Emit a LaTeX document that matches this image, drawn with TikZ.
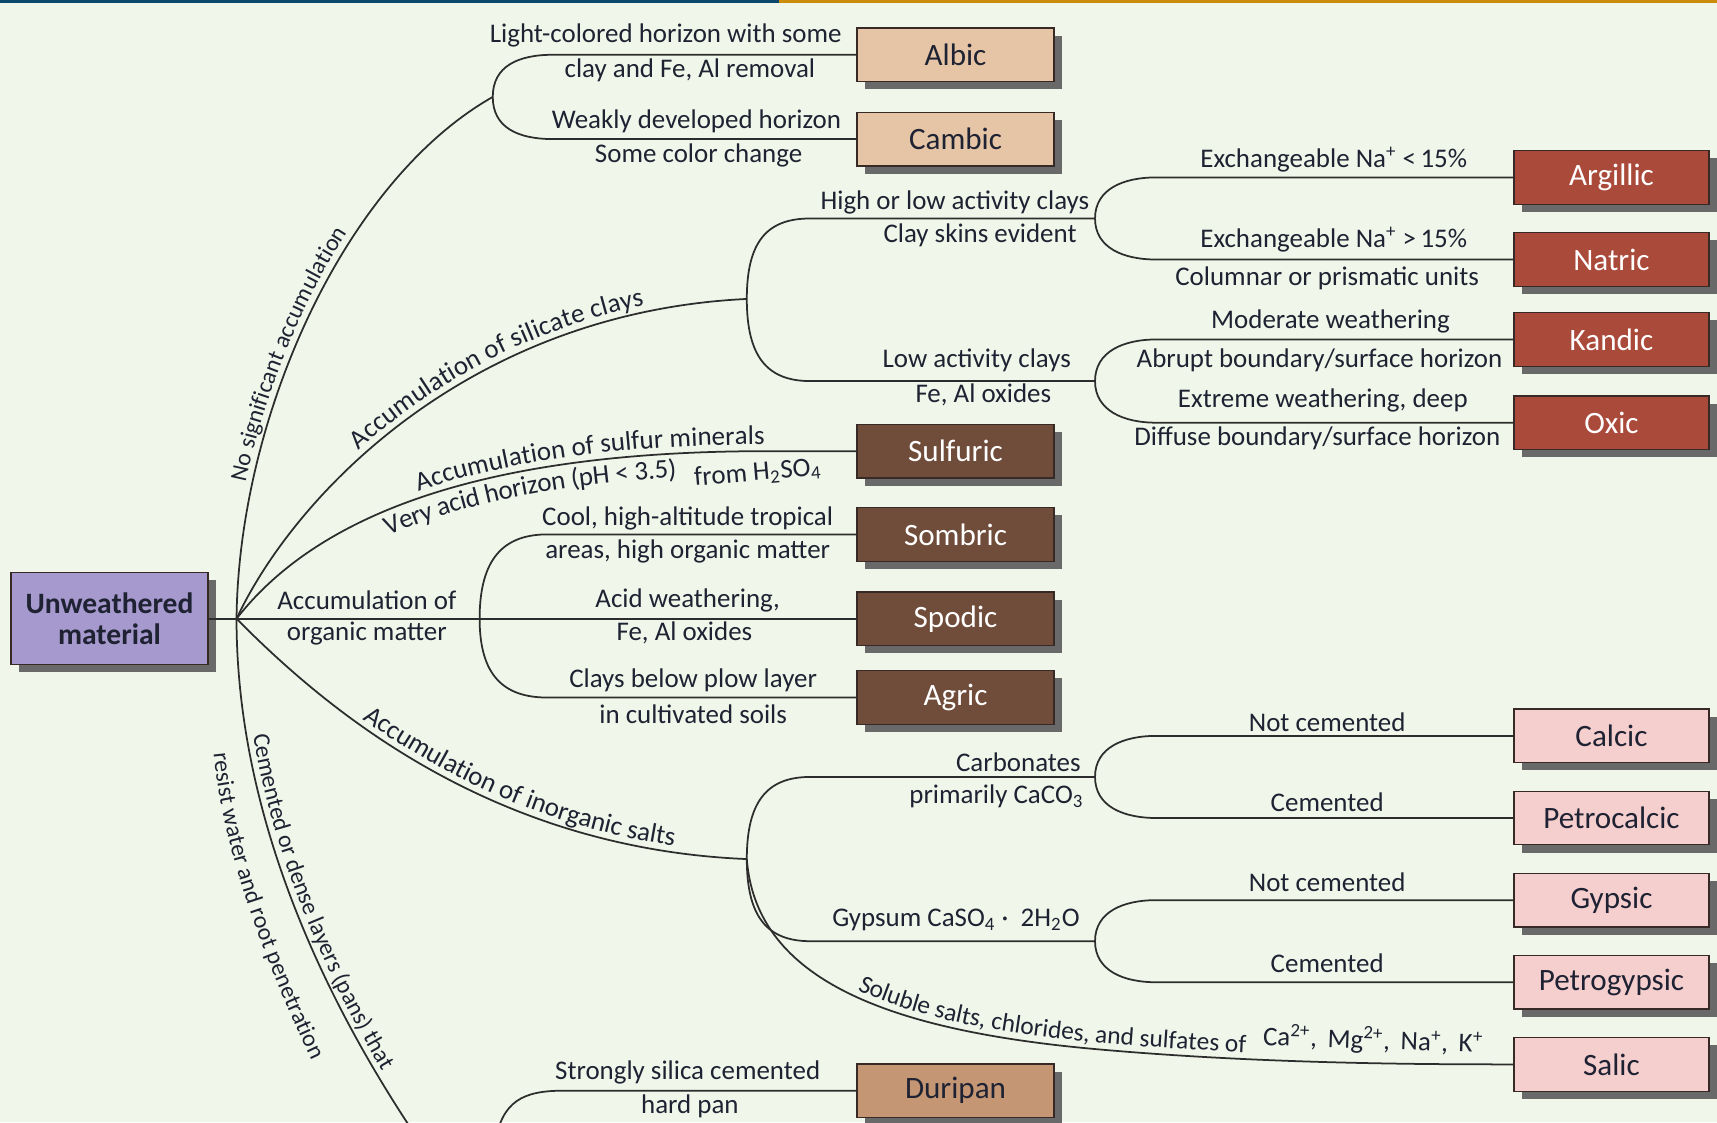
\documentclass[tikz,border=0pt]{standalone}
\usepackage{fontspec}
\setmainfont{Carlito}
\usetikzlibrary{shadows,decorations.text}
\definecolor{bg}{RGB}{240,246,233}
\definecolor{barblue}{RGB}{12,72,110}
\definecolor{bargold}{RGB}{204,140,12}
\definecolor{tanc}{RGB}{229,197,165}
\definecolor{brick}{RGB}{170,74,58}
\definecolor{dbrown}{RGB}{112,76,58}
\definecolor{pinkc}{RGB}{245,206,206}
\definecolor{durc}{RGB}{196,150,116}
\definecolor{lavc}{RGB}{165,153,205}
\definecolor{shade}{RGB}{105,105,105}
\definecolor{boxline}{RGB}{55,42,38}
\definecolor{linec}{RGB}{45,45,45}
\definecolor{txt}{RGB}{30,34,50}
\newcommand\lblf{\fontsize{12.3}{14}\selectfont}
\newcommand\lblm{\fontsize{11.6}{14}\selectfont}
\newcommand\lbls{\fontsize{10.9}{13}\selectfont}
\newcommand\boxf{\fontsize{14.2}{16}\selectfont}
\tikzset{
  hbox/.style={draw=boxline, line width=0.6pt, minimum width=90pt, minimum height=24.5pt,
    inner sep=0pt, font=\boxf, anchor=west,
    drop shadow={shadow xshift=3.5pt, shadow yshift=-3.5pt, fill=shade, opacity=1}},
  rbox/.style={hbox, minimum width=89pt},
  tanbox/.style={hbox, fill=tanc, text=txt},
  redbox/.style={rbox, fill=brick, text=white},
  brownbox/.style={hbox, fill=dbrown, text=white},
  pinkbox/.style={rbox, fill=pinkc, text=txt},
  duribox/.style={hbox, fill=durc, text=txt},
  rootbox/.style={draw=boxline, line width=0.6pt, fill=lavc, text=txt, minimum width=90pt,
    minimum height=42pt, inner sep=0pt, align=center,
    font=\bfseries\fontsize{13.5}{14.5}\selectfont,
    drop shadow={shadow xshift=3.5pt, shadow yshift=-3.5pt, fill=shade, opacity=1}},
  conn/.style={draw=linec, line width=0.8pt},
  lbl/.style={font=\lblf, text=txt, inner sep=0pt},
}
\begin{document}
\begin{tikzpicture}[x=0.5pt,y=-0.5pt]
\useasboundingbox (0,0) rectangle (1568,1025);
\fill[bg] (0,0) rectangle (1568,1025);
\begin{scope}
\clip (0,0) rectangle (1568,1025);
\fill[barblue] (0,0) rectangle (711,3);
\fill[bargold] (711,0) rectangle (1568,3);

% boxes
\node[rootbox] (root) at (100,565) {Unweathered\\material};
\node[tanbox] (albic) at (782,50) {Albic};
\node[tanbox] (cambic) at (782,127) {Cambic};
\node[brownbox] (sulfuric) at (782,412) {Sulfuric};
\node[brownbox] (sombric) at (782,488) {Sombric};
\node[brownbox] (spodic) at (782,565) {Spodic};
\node[brownbox] (agric) at (782,637) {Agric};
\node[duribox] (duripan) at (782,996) {Duripan};
\node[redbox] (argillic) at (1382,162) {Argillic};
\node[redbox] (natric) at (1382,237) {Natric};
\node[redbox] (kandic) at (1382,310) {Kandic};
\node[redbox] (oxic) at (1382,386) {Oxic};
\node[pinkbox] (calcic) at (1382,672) {Calcic};
\node[pinkbox] (petrocalcic) at (1382,747) {Petrocalcic};
\node[pinkbox] (gypsic) at (1382,822) {Gypsic};
\node[pinkbox] (petrogypsic) at (1382,897) {Petrogypsic};
\node[pinkbox] (salic) at (1382,972) {Salic};

% junctions
\coordinate (J) at (216,565);
\coordinate (FA) at (450,88.5);
\coordinate (FB) at (682,273);
\coordinate (FH) at (1000,199.5);
\coordinate (FL) at (1000,348);
\coordinate (FO) at (438,565);
\coordinate (FI) at (682,784.5);
\coordinate (FC) at (1000,709.5);
\coordinate (FG) at (1000,859.5);
\coordinate (cembot) at (385,1045);
\coordinate (duribot) at (452,1045);
\coordinate (rs1) at (195,688);
\coordinate (rs2) at (305,1010);

% connectors
\draw[conn] (root.east) -- (spodic.west);
\draw[conn, postaction={decorate, decoration={text along path, raise=3pt,
   text align={left indent=62pt}, text={|\lbls\color{txt}|No significant accumulation}}}]
  (J) .. controls (218,380) and (315,165) .. (FA);
\draw[conn] (FA) .. controls +(0,-28) and +(-32,0) .. ([xshift=-138.5pt]albic.west) -- (albic.west);
\draw[conn] (FA) .. controls +(0,28) and +(-32,0) .. ([xshift=-138.5pt]cambic.west) -- (cambic.west);

\draw[conn, postaction={decorate, decoration={text along path, raise=3pt,
   text align={left indent=95pt}, text={|\lblf\color{txt}|Accumulation of silicate clays}}}]
  (J) .. controls (270,450) and (430,285) .. (FB);
\draw[conn] (FB) .. controls +(0,-52) and +(-40,0) .. ([xshift=-130pt]FH) -- (FH);
\draw[conn] (FB) .. controls +(0,52) and +(-40,0) .. ([xshift=-130pt]FL) -- (FL);
\draw[conn] (FH) .. controls +(0,-27) and +(-30,0) .. ([xshift=-163pt]argillic.west) -- (argillic.west);
\draw[conn] (FH) .. controls +(0,27) and +(-30,0) .. ([xshift=-163pt]natric.west) -- (natric.west);
\draw[conn] (FL) .. controls +(0,-27) and +(-30,0) .. ([xshift=-163pt]kandic.west) -- (kandic.west);
\draw[conn] (FL) .. controls +(0,27) and +(-30,0) .. ([xshift=-163pt]oxic.west) -- (oxic.west);

\draw[conn, postaction={decorate, decoration={text along path, raise=3pt,
   text align={left indent=102pt}, text={|\lblf\color{txt}|Accumulation of sulfur minerals}}},
   postaction={decorate, decoration={text along path, raise=-11pt,
   text align={left indent=82pt}, text={|\lblf\color{txt}|Very acid horizon (pH < 3.5)}}}]
  (J) .. controls (290,470) and (440,412) .. ([xshift=-41pt]sulfuric.west) -- (sulfuric.west);

\draw[conn] (FO) .. controls +(0,-55) and +(-40,0) .. ([xshift=-141pt]sombric.west) -- (sombric.west);
\draw[conn] (FO) .. controls +(0,52) and +(-40,0) .. ([xshift=-141pt]agric.west) -- (agric.west);

\draw[conn, postaction={decorate, decoration={text along path, raise=3pt,
   text align={left indent=74pt}, text={|\lblf\color{txt}|Accumulation of inorganic salts}}}]
  (J) .. controls (300,650) and (450,775) .. (FI);
\draw[conn] (FI) .. controls +(0,-52) and +(-40,0) .. ([xshift=-130pt]FC) -- (FC);
\draw[conn] (FI) .. controls +(0,52) and +(-40,0) .. ([xshift=-130pt]FG) -- (FG);
\draw[conn] (FC) .. controls +(0,-27) and +(-30,0) .. ([xshift=-163pt]calcic.west) -- (calcic.west);
\draw[conn] (FC) .. controls +(0,27) and +(-30,0) .. ([xshift=-163pt]petrocalcic.west) -- (petrocalcic.west);
\draw[conn] (FG) .. controls +(0,-27) and +(-30,0) .. ([xshift=-163pt]gypsic.west) -- (gypsic.west);
\draw[conn] (FG) .. controls +(0,27) and +(-30,0) .. ([xshift=-163pt]petrogypsic.west) -- (petrogypsic.west);
\draw[conn, postaction={decorate, decoration={text along path, raise=3pt,
   text align={left indent=84pt}, text={|\lblm\color{txt}|Soluble salts, chlorides, and sulfates of}}}]
  (FI) .. controls (690,890) and (800,940) .. (1000,958) .. controls (1150,971.5) and (1300,972) .. (salic.west);

\draw[conn, postaction={decorate, decoration={text along path, raise=3pt,
   text align={left indent=54pt}, text={|\lbls\color{txt}|Cemented or dense layers (pans) that}}}]
  (J) .. controls (216,750) and (300,920) .. (cembot);
\path[decorate, decoration={text along path, raise=0pt,
   text align={left indent=0pt}, text={|\lbls\color{txt}|resist water and root penetration}}]
  (rs1) .. controls (204,780) and (244,890) .. (rs2);
\draw[conn] (duribot) .. controls (458,1005) and (478,996) .. ([xshift=-133.5pt]duripan.west) -- (duripan.west);

% labels
\node[lbl] (t1) at (608,32) {Light-colored horizon with some};
\node[lbl] (t2) at (630,64) {clay and Fe, Al removal};
\node[lbl] (t3) at (636,111) {Weakly developed horizon};
\node[lbl] (t4) at (638,142) {Some color change};
\node[lbl] (t5) at (872,185) {High or low activity clays};
\node[lbl] (t6) at (895,215) {Clay skins evident};
\node[lbl] (t7) at (892,329) {Low activity clays};
\node[lbl] (t8) at (898,361) {Fe, Al oxides};
\node[lbl] (t9) at (1218,146) {Exchangeable Na\textsuperscript{+} <\,15\%};
\node[lbl] (t10) at (1218,219) {Exchangeable Na\textsuperscript{+} >\,15\%};
\node[lbl] (t11) at (1212,254) {Columnar or prismatic units};
\node[lbl] (t12) at (1215,294) {Moderate weathering};
\node[lbl] (t13) at (1205,329) {Abrupt boundary/surface horizon};
\node[lbl] (t14) at (1208,366) {Extreme weathering, deep};
\node[lbl] (t15) at (1203,400) {Diffuse boundary/surface horizon};
\node[lbl, rotate=5] (t16) at (692,432) {from H\textsubscript{2}SO\textsubscript{4}};
\node[lbl] (t17) at (628,473) {Cool, high-altitude tropical};
\node[lbl] (t18) at (628,504) {areas, high organic matter};
\node[lbl] (t19) at (335,548) {Accumulation of};
\node[lbl] (t20) at (335,579) {organic matter};
\node[lbl] (t21) at (628,548) {Acid weathering,};
\node[lbl] (t22) at (625,578) {Fe, Al oxides};
\node[lbl] (t23) at (633,621) {Clays below plow layer};
\node[lbl] (t24) at (633,652) {in cultivated soils};
\node[lbl] (t25) at (930,696) {Carbonates};
\node[lbl] (t26) at (910,727) {primarily CaCO\textsubscript{3}};
\node[lbl] (t27) at (1212,660) {Not cemented};
\node[lbl] (t28) at (1212,733) {Cemented};
\node[lbl] (t29) at (873,840) {Gypsum CaSO\textsubscript{4}\ ·\ \ 2H\textsubscript{2}O};
\node[lbl] (t30) at (1212,806) {Not cemented};
\node[lbl] (t31) at (1212,880) {Cemented};
\node[lbl, rotate=-2] (t32) at (1254,950) {Ca\textsuperscript{2+},\ \,Mg\textsuperscript{2+},\ \,Na\textsuperscript{+},\ \,K\textsuperscript{+}};
\node[lbl] (t33) at (628,979) {Strongly silica cemented};
\node[lbl] (t34) at (630,1010) {hard pan};
\end{scope}
\end{tikzpicture}
\end{document}
